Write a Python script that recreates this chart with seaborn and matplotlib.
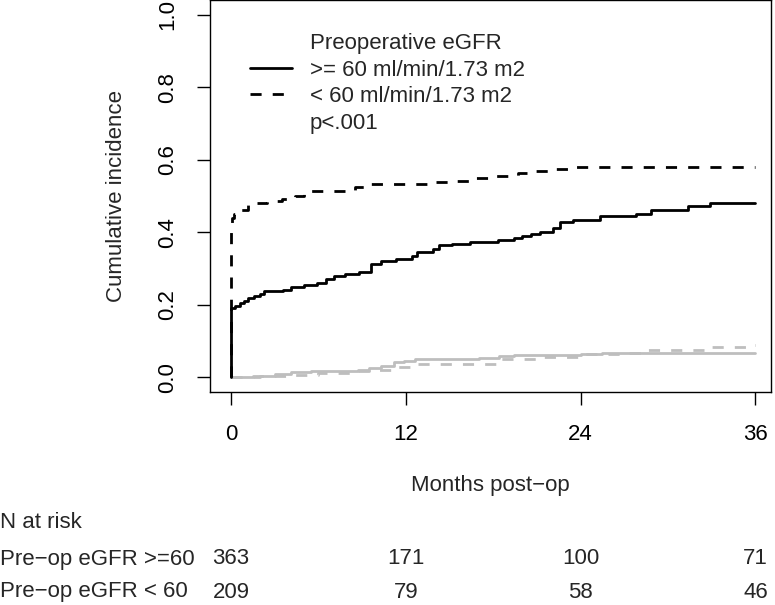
import numpy as np
import pandas as pd
import matplotlib
matplotlib.use('Agg')
import matplotlib.pyplot as plt
import seaborn as sns
from matplotlib.lines import Line2D
from matplotlib.transforms import blended_transform_factory

# Cumulative incidence, months post-op
ge60_t = [0, 0, 0.3, 0.6, 0.9, 1.2, 1.6, 2.0, 2.3, 3.0, 3.6, 4.1, 5.0, 5.9, 6.5, 7.1, 7.8,
          8.8, 9.6, 10.3, 11.3, 12.4, 12.8, 13.9, 14.3, 15.2, 16.4, 18.3, 19.4, 20.0,
          20.6, 21.2, 22.1, 22.6, 23.5, 25.3, 27.8, 28.8, 31.4, 32.9, 36]
ge60_v = [0, 0.192, 0.198, 0.205, 0.212, 0.218, 0.225, 0.231, 0.237, 0.239, 0.242, 0.250,
          0.255, 0.260, 0.270, 0.280, 0.286, 0.290, 0.314, 0.320, 0.326, 0.334, 0.345,
          0.354, 0.364, 0.369, 0.373, 0.378, 0.383, 0.391, 0.395, 0.401, 0.412, 0.427,
          0.435, 0.446, 0.451, 0.462, 0.473, 0.480, 0.480]

lt60_t = [0, 0, 0.05, 0.2, 0.4, 0.7, 1.2, 1.8, 2.5, 3.5, 4.4, 5.0, 8.5, 9.6, 14.0, 15.5,
          16.7, 18.2, 19.7, 20.7, 22.1, 23.5, 36]
lt60_v = [0, 0.42, 0.44, 0.45, 0.455, 0.462, 0.475, 0.482, 0.487, 0.492, 0.500, 0.513,
          0.525, 0.533, 0.538, 0.542, 0.549, 0.556, 0.562, 0.570, 0.575, 0.581, 0.581]

# competing event curves (grey)
ge60_comp_t = [0, 1.5, 3.0, 4.1, 5.5, 7.3, 8.7, 9.5, 10.3, 11.2, 11.9, 12.6, 17.0, 18.4,
               19.4, 24.0, 25.5, 36]
ge60_comp_v = [0.002, 0.005, 0.010, 0.015, 0.017, 0.019, 0.020, 0.025, 0.031, 0.042,
               0.046, 0.050, 0.053, 0.059, 0.063, 0.065, 0.067, 0.067]

lt60_comp_t = [0, 2.0, 4.0, 6.0, 8.7, 9.5, 11.4, 12.8, 18.4, 21.5, 24.3, 27.2, 28.4,
               32.9, 35.6, 36]
lt60_comp_v = [0.0, 0.004, 0.008, 0.013, 0.018, 0.020, 0.028, 0.038, 0.050, 0.056,
               0.064, 0.068, 0.075, 0.083, 0.089, 0.089]

risk_times = [0, 12, 24, 36]
risk_ge60 = [363, 171, 100, 71]
risk_lt60 = [209, 79, 58, 46]
row_labels = ['Pre\u2212op eGFR >=60', 'Pre\u2212op eGFR < 60']

legend_labels = ['Preoperative eGFR', '>= 60 ml/min/1.73 m2', '< 60 ml/min/1.73 m2', 'p<.001']

sns.set_style('white')
plt.rcParams['font.family'] = ['Liberation Sans', 'DejaVu Sans']
FS = 16

fig = plt.figure(figsize=(7.75, 6.05), dpi=100)
ax = fig.add_axes([210 / 775, 1 - 392 / 605, 561 / 775, 392 / 605])

dashed = (0, (4, 4))
curves = [
    (ge60_comp_t, ge60_comp_v, '#BEBEBE', '-'),
    (lt60_comp_t, lt60_comp_v, '#BEBEBE', dashed),
    (ge60_t, ge60_v, 'black', '-'),
    (lt60_t, lt60_v, 'black', dashed),
]
for t, v, col, ls in curves:
    df = pd.DataFrame({'t': t, 'v': v})
    sns.lineplot(data=df, x='t', y='v', estimator=None, color=col, linestyle=ls,
                 linewidth=2, drawstyle='steps-post', ax=ax)

ax.set_xlim(-1.44, 37.07)
ax.set_ylim(-0.04, 1.04)
ax.set_xticks(risk_times)
ax.set_yticks([0, 0.2, 0.4, 0.6, 0.8, 1.0])
ax.set_yticklabels(['0.0', '0.2', '0.4', '0.6', '0.8', '1.0'], rotation=90, va='center')
ax.tick_params(axis='both', direction='out', length=9.5, width=1, pad=13.5,
               labelsize=FS, colors='black', left=True, bottom=True)
for s in ax.spines.values():
    s.set_color('black')
    s.set_linewidth(1)

ax.set_ylabel('Cumulative incidence', fontsize=FS)
ax.yaxis.set_label_coords(-0.148, 0.5)
ax.set_xlabel('Months post\u2212op', fontsize=FS)
ax.xaxis.set_label_coords(0.5, -0.212)

handles = [Line2D([], [], color='none'),
           Line2D([], [], color='black', lw=2),
           Line2D([], [], color='black', lw=2, linestyle=dashed),
           Line2D([], [], color='none')]
ax.legend(handles, legend_labels, loc='upper left', bbox_to_anchor=(250 / 775, 1 - 33 / 605),
          bbox_transform=fig.transFigure, frameon=False, fontsize=FS, borderpad=0,
          borderaxespad=0, handlelength=1.9, handletextpad=0.8, labelspacing=0.25)

# numbers at risk table
tr = blended_transform_factory(ax.transData, fig.transFigure)
fig.text(0.0, 1 - 523 / 605, 'N at risk', fontsize=FS, ha='left', va='center')
for row, (lab, counts) in enumerate(zip(row_labels, [risk_ge60, risk_lt60])):
    yy = 1 - (559 + 33 * row) / 605
    fig.text(0.0, yy, lab, fontsize=FS, ha='left', va='center')
    for t, n in zip(risk_times, counts):
        ax.text(t, yy, str(n), transform=tr, fontsize=FS, ha='center', va='center',
                clip_on=False)

fig.savefig('out.png', dpi=100)
